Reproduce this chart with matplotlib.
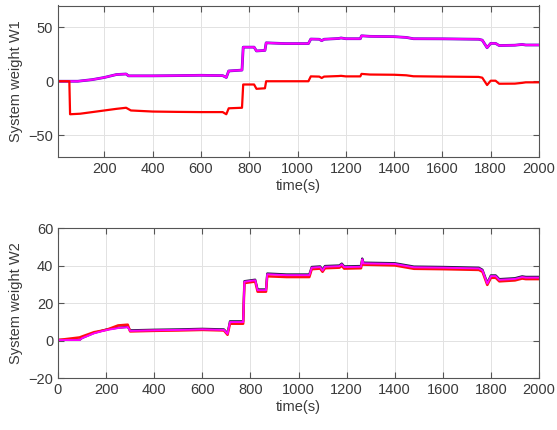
import matplotlib
matplotlib.use("Agg")
import matplotlib.pyplot as plt

plt.rcParams['font.family'] = ['Liberation Sans', 'DejaVu Sans']

# ---- Top panel: System weight W1 ----
w1_time = [0, 90, 150, 200, 250, 290, 300, 400, 500, 600, 690, 705, 715, 770, 775, 820, 830, 865, 870,
           950, 1045, 1055, 1090, 1100, 1110, 1170, 1180, 1200, 1260, 1265, 1300, 1400, 1450, 1480,
           1600, 1750, 1765, 1785, 1800, 1820, 1835, 1900, 1930, 1945, 2000]
w1_upper = [0, 0, 1.5, 3.5, 6.2, 6.7, 5.0, 5.0, 5.2, 5.5, 5.2, 3.5, 9.5, 10.3, 31.5, 31.5, 28.0, 28.5, 35.5,
            34.8, 34.8, 39.0, 38.8, 37.5, 38.8, 39.5, 40.0, 39.3, 39.3, 42.0, 41.5, 41.2, 40.5, 39.3,
            39.2, 38.8, 38.0, 31.0, 35.0, 35.0, 33.0, 33.3, 34.0, 33.5, 33.5]

w1_low_time = [0, 55, 58, 100, 150, 200, 250, 290, 310, 400, 500, 600, 690, 705, 715, 770, 775, 820, 830,
               865, 870, 950, 1045, 1055, 1090, 1100, 1110, 1170, 1180, 1200, 1260, 1265, 1300, 1400,
               1450, 1480, 1600, 1750, 1765, 1785, 1800, 1820, 1835, 1900, 1930, 1945, 2000]
w1_lower = [0, 0, -30.5, -30, -28.5, -27, -25.5, -24.5, -27, -28, -28.3, -28.5, -28.5, -30.5, -25, -24.5,
            -3, -3, -7, -6.5, 0, 0, 0, 4.5, 4.3, 3, 4.3, 4.8, 5, 4.5, 4.5, 6.8, 6.2, 6, 5.5, 4.6, 4.3,
            4, 3.3, -3.5, 0.5, 0.5, -2.3, -2.2, -1.5, -1, -1]

# ---- Bottom panel: System weight W2 ----
w2_time = [0, 90, 100, 150, 200, 250, 290, 300, 400, 500, 600, 690, 705, 715, 770, 775, 820, 830, 865,
           870, 950, 1045, 1055, 1090, 1100, 1110, 1170, 1180, 1190, 1260, 1265, 1270, 1400, 1480,
           1600, 1750, 1765, 1785, 1800, 1820, 1835, 1900, 1930, 1945, 2000]
w2_black = [0.5, 0.5, 1.5, 4.2, 6.0, 7.0, 7.4, 5.6, 5.9, 6.1, 6.4, 6.1, 4.0, 10.4, 10.4, 31.8, 32.6, 27.4,
            27.4, 35.9, 35.4, 35.4, 39.4, 39.7, 37.9, 39.9, 40.2, 41.2, 39.7, 39.9, 43.9, 41.7, 41.4,
            39.6, 39.4, 39.0, 37.9, 30.9, 34.9, 34.9, 32.9, 33.4, 34.4, 34.1, 34.1]
w2_red = [0.4, 1.8, 2.3, 4.6, 5.8, 8.2, 8.6, 5.0, 5.3, 5.5, 5.8, 5.5, 3.2, 9.1, 9.1, 30.8, 31.6, 26.2,
          26.2, 34.4, 34.0, 34.0, 38.2, 38.5, 36.8, 38.7, 39.0, 40.0, 38.5, 38.7, 42.7, 40.6, 40.2,
          38.4, 38.2, 37.8, 36.8, 29.8, 33.6, 33.6, 31.7, 32.2, 33.2, 32.9, 32.9]
w2_magenta = [0.4, 0.4, 1.4, 4.0, 5.7, 6.8, 7.3, 5.3, 5.6, 5.8, 6.1, 5.8, 3.7, 10.0, 10.0, 31.5, 32.3,
              27.0, 27.0, 35.5, 35.0, 35.0, 39.0, 39.3, 37.5, 39.5, 39.8, 40.8, 39.3, 39.5, 43.5,
              41.3, 41.0, 39.2, 39.0, 38.6, 37.5, 30.5, 34.5, 34.5, 32.5, 33.0, 34.0, 33.7, 33.7]

top_xticks = [200, 400, 600, 800, 1000, 1200, 1400, 1600, 1800, 2000]
top_yticks = [-50, 0, 50]
bot_xticks = [0, 200, 400, 600, 800, 1000, 1200, 1400, 1600, 1800, 2000]
bot_yticks = [-20, 0, 20, 40, 60]

W, H = 557, 430
fig = plt.figure(figsize=(W / 100, H / 100), dpi=100)
ax1 = fig.add_axes([58 / W, 1 - 157 / H, (539 - 58) / W, (157 - 5.5) / H])
ax2 = fig.add_axes([58 / W, 1 - 378.3 / H, (539 - 58) / W, (378.3 - 228.3) / H])

txtc = '#3a3a3a'
for ax in (ax1, ax2):
    ax.grid(True, color='#e2e2e2', linewidth=0.7)
    ax.set_axisbelow(True)
    for s in ax.spines.values():
        s.set_color('#555555')
        s.set_linewidth(0.8)
    ax.tick_params(direction='in', top=True, right=True, length=4, width=0.8,
                   colors='#555555', labelcolor=txtc, labelsize=10.5)
    ax.set_xlabel('time(s)', fontsize=10.5, color=txtc, labelpad=2)

ax1.plot(w1_time, w1_upper, color='#4a10c0', lw=2.0)
ax1.plot(w1_time, w1_upper, color='#ff00ff', lw=1.5)
ax1.plot(w1_low_time, w1_lower, color='#ff0000', lw=1.6)
ax1.set_xlim(8, 2000)
ax1.set_ylim(-70, 70)
ax1.set_xticks(top_xticks)
ax1.set_yticks(top_yticks)
ax1.set_ylabel('System weight W1', fontsize=10.5, color=txtc)

ax2.plot(w2_time, w2_black, color='#202040', lw=1.6)
ax2.plot(w2_time, w2_red, color='#ff1010', lw=1.8)
ax2.plot(w2_time, w2_magenta, color='#ff00ff', lw=1.4)
ax2.set_xlim(0, 2000)
ax2.set_ylim(-20, 60)
ax2.set_xticks(bot_xticks)
ax2.set_yticks(bot_yticks)
ax2.set_ylabel('System weight W2', fontsize=10.5, color=txtc)

fig.savefig('out.png', dpi=100)
